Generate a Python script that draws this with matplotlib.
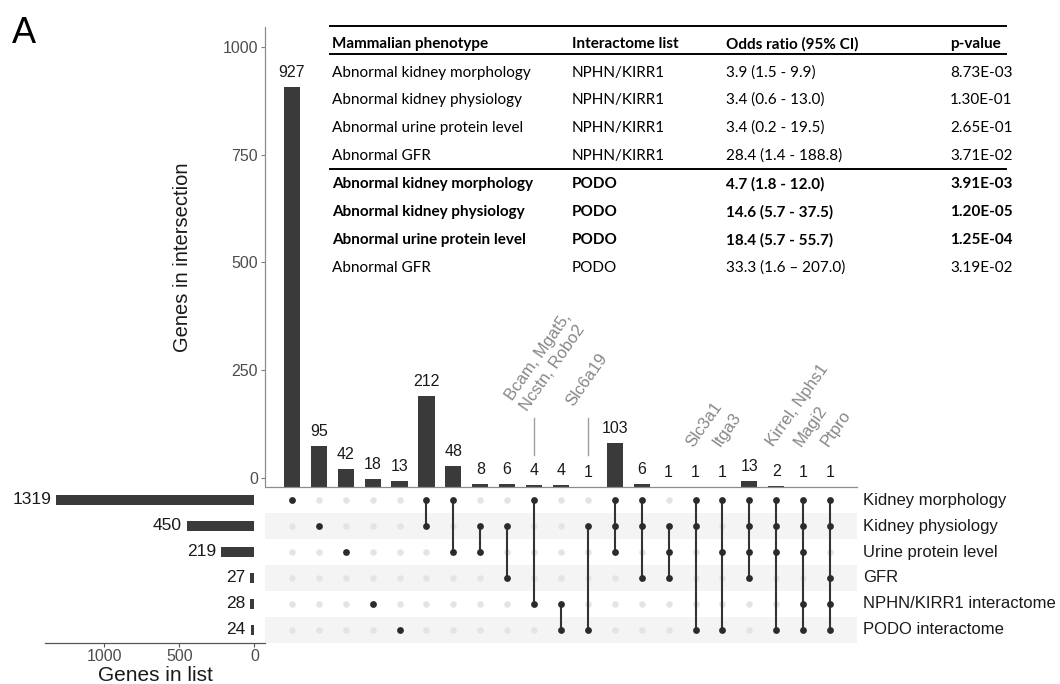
import matplotlib
matplotlib.use("Agg")
import matplotlib.pyplot as plt
from matplotlib.lines import Line2D

plt.rcParams["font.family"] = ["Liberation Sans", "DejaVu Sans"]

# ---- data -------------------------------------------------------------
set_names = ["Kidney morphology", "Kidney physiology", "Urine protein level",
             "GFR", "NPHN/KIRR1 interactome", "PODO interactome"]
set_sizes = [1319, 450, 219, 27, 28, 24]

intersection_counts = [927, 95, 42, 18, 13, 212, 48, 8, 6, 4, 4, 1,
                       103, 6, 1, 1, 1, 13, 2, 1, 1]
# member sets of each intersection (indices into set_names)
intersection_members = [
    [0], [1], [2], [4], [5], [0, 1], [0, 2], [1, 2], [1, 3], [0, 4], [4, 5],
    [1, 5], [0, 1, 2], [0, 1, 3], [1, 2, 3], [0, 1, 5], [0, 2, 5],
    [0, 1, 2, 3], [0, 1, 2, 5], [0, 1, 2, 4, 5], [0, 1, 3, 4, 5],
]
gene_labels = {9: "Bcam, Mgat5,\nNcstn, Robo2", 11: "Slc6a19", 15: "Slc3a1",
               16: "Itga3", 18: "Kirrel, Nphs1", 19: "Magi2", 20: "Ptpro"}
leader_lines = [9, 11]

table_header = ["Mammalian phenotype", "Interactome list", "Odds ratio (95% CI)", "p-value"]
table_phenotype = ["Abnormal kidney morphology", "Abnormal kidney physiology",
                   "Abnormal urine protein level", "Abnormal GFR"] * 2
table_list = ["NPHN/KIRR1"] * 4 + ["PODO"] * 4
table_odds = ["3.9 (1.5 - 9.9)", "3.4 (0.6 - 13.0)", "3.4 (0.2 - 19.5)", "28.4 (1.4 - 188.8)",
              "4.7 (1.8 - 12.0)", "14.6 (5.7 - 37.5)", "18.4 (5.7 - 55.7)", "33.3 (1.6 \u2013 207.0)"]
table_pval = ["8.73E-03", "1.30E-01", "2.65E-01", "3.71E-02",
              "3.91E-03", "1.20E-05", "1.25E-04", "3.19E-02"]
table_bold = [False] * 4 + [True, True, True, False]

# ---- layout helpers ---------------------------------------------------
W, H = 1060, 684
fig = plt.figure(figsize=(W / 100, H / 100), dpi=100)


def box(l, t, r, b):
    return [l / W, 1 - b / H, (r - l) / W, (b - t) / H]


def fx(x):
    return x / W


def fy(y):
    return 1 - y / H


dark = "#3a3a3a"
tick_col = "#4d4d4d"
n_int = len(intersection_counts)
n_sets = len(set_names)
xs = list(range(n_int))

# ---- intersection size bars -------------------------------------------
ax_bar = fig.add_axes(box(265, 27, 857, 487))
y_lo, y_hi = -20.6, 1046
ax_bar.set_xlim(-1, n_int)
ax_bar.set_ylim(y_lo, y_hi)
ax_bar.bar(xs, intersection_counts, bottom=y_lo, width=0.6, color=dark)
for x, c in zip(xs, intersection_counts):
    ax_bar.annotate(str(c), (x, y_lo + c), xytext=(0, 7), textcoords="offset pixels",
                    ha="center", va="bottom", fontsize=11.5, color="#1a1a1a")
ax_bar.set_yticks([0, 250, 500, 750, 1000])
ax_bar.tick_params(axis="y", labelsize=11.5, labelcolor=tick_col, color="#7f7f7f",
                   length=3, width=0.8, pad=2)
ax_bar.set_xticks([])
for s in ["top", "right"]:
    ax_bar.spines[s].set_visible(False)
for s in ["left", "bottom"]:
    ax_bar.spines[s].set_color("#8c8c8c")
    ax_bar.spines[s].set_linewidth(0.9)

# gene name annotations
trans = ax_bar.get_xaxis_transform()


def yfrac(py):
    return (487 - py) / 460


for idx in leader_lines:
    ax_bar.add_line(Line2D([idx, idx], [yfrac(455), yfrac(418)], transform=trans,
                           color="#a0a0a0", lw=1.0))
for idx, lab in gene_labels.items():
    if idx in leader_lines:
        py, dx = 404, -18
    else:
        py, dx = 445, -6
    ax_bar.annotate(lab, (idx, yfrac(py)), xycoords=trans, xytext=(dx, 0),
                    textcoords="offset pixels", rotation=55, rotation_mode="anchor",
                    ha="left", va="center", fontsize=12, color="#878787",
                    multialignment="left", linespacing=1.25)

# ---- matrix -----------------------------------------------------------
ax_mat = fig.add_axes(box(265, 487, 857, 643))
ax_mat.set_xlim(-1, n_int)
ax_mat.set_ylim(n_sets - 0.5, -0.5)
for r in range(1, n_sets, 2):
    ax_mat.axhspan(r - 0.5, r + 0.5, color="#f4f4f4", lw=0, zorder=0)
for x, members in zip(xs, intersection_members):
    inactive = [r for r in range(n_sets) if r not in members]
    ax_mat.scatter([x] * len(inactive), inactive, s=22, color="#e4e4e4", lw=0, zorder=2)
    ax_mat.plot([x, x], [min(members), max(members)], color="#333333", lw=1.5, zorder=3)
    ax_mat.scatter([x] * len(members), members, s=24, color="#2b2b2b", lw=0, zorder=4)
ax_mat.axis("off")
for r, name in enumerate(set_names):
    ax_mat.annotate(name, (n_int, r), xytext=(6, 0), textcoords="offset pixels",
                    ha="left", va="center", fontsize=12, color="#1a1a1a",
                    annotation_clip=False)

# ---- set size bars ----------------------------------------------------
ax_set = fig.add_axes(box(45, 487, 265, 643))
ax_set.set_xlim(1395, -71)
ax_set.set_ylim(n_sets - 0.5, -0.5)
ax_set.barh(range(n_sets), set_sizes, height=0.42, color=dark)
for r, s in enumerate(set_sizes):
    ax_set.annotate(str(s), (s, r), xytext=(-5, 0), textcoords="offset pixels",
                    ha="right", va="center", fontsize=12.5, color="#1a1a1a")
ax_set.set_yticks([])
ax_set.set_xticks([1000, 500, 0])
ax_set.tick_params(axis="x", labelsize=11.5, labelcolor=tick_col, color="#555555",
                   length=3, width=0.8, pad=1)
for s in ["top", "right", "left"]:
    ax_set.spines[s].set_visible(False)
ax_set.spines["bottom"].set_color("#555555")
ax_set.spines["bottom"].set_linewidth(0.9)

# ---- titles -----------------------------------------------------------
fig.text(fx(183), fy(257), "Genes in intersection", rotation=90, ha="center",
         va="center", fontsize=14.5, color="#1a1a1a")
fig.text(fx(155), fy(681), "Genes in list", ha="center", va="baseline",
         fontsize=15, color="#1a1a1a")
fig.text(fx(12), fy(43), "A", ha="left", va="baseline", fontsize=26, color="black")

# ---- enrichment table -------------------------------------------------
col_x = [332, 572, 726, 950]
tfont = ["Lato", "DejaVu Sans"]
tsize = 11
header_y = 44
row_y = [73, 100, 128, 156, 184, 212, 240, 268]
for cx, h in zip(col_x, table_header):
    fig.text(fx(cx), fy(header_y), h, ha="left", va="center", fontsize=tsize,
             fontweight="bold", family=tfont, color="black")
for i, y in enumerate(row_y):
    w = "bold" if table_bold[i] else "normal"
    for cx, val in zip(col_x, [table_phenotype[i], table_list[i], table_odds[i], table_pval[i]]):
        fig.text(fx(cx), fy(y), val, ha="left", va="center", fontsize=tsize,
                 fontweight=w, family=tfont, color="black")
for y in [26, 54, 169]:
    fig.add_artist(Line2D([fx(330), fx(1006)], [fy(y), fy(y)], color="black", lw=1.4))

fig.savefig("out.png", dpi=100)
